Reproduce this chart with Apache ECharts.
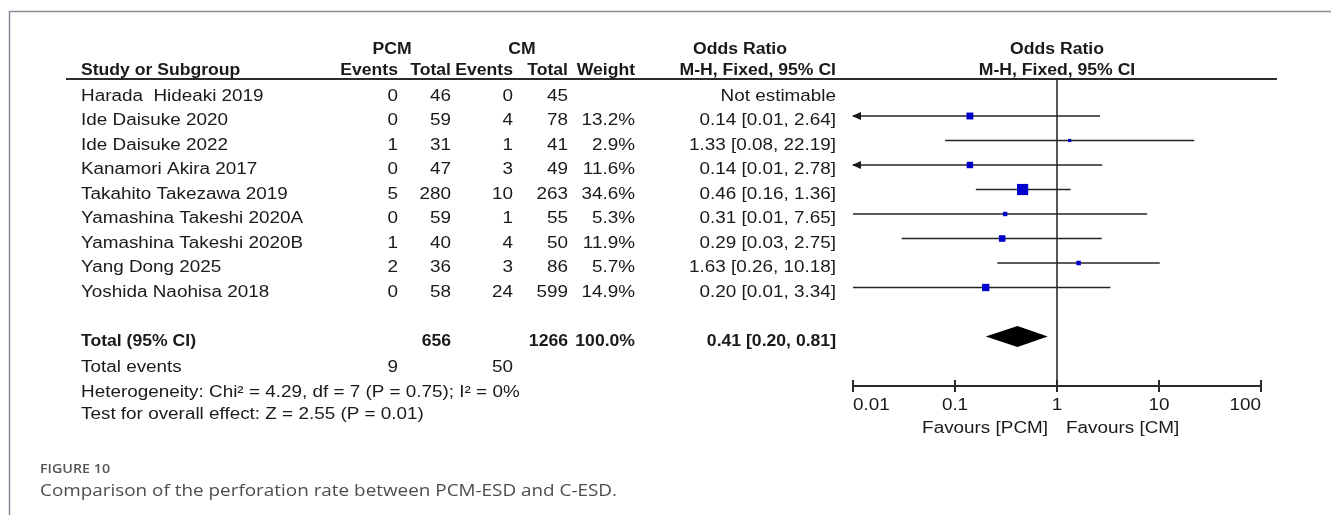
<!DOCTYPE html>
<html>
<head>
<meta charset="utf-8">
<script src="https://cdn.jsdelivr.net/npm/echarts@6/dist/echarts.min.js"></script>
<style>
  html, body { margin: 0; padding: 0; background: #ffffff; }
  #chart { width: 1331px; height: 515px; }
</style>
</head>
<body>
<div id="chart"></div>
<script>
// Study-level data (Mantel-Haenszel fixed-effect odds ratios)
const studies = [
  'Harada  Hideaki 2019', 'Ide Daisuke 2020', 'Ide Daisuke 2022', 'Kanamori Akira 2017',
  'Takahito Takezawa 2019', 'Yamashina Takeshi 2020A', 'Yamashina Takeshi 2020B',
  'Yang Dong 2025', 'Yoshida Naohisa 2018'
];
const pcmEvents = [0, 0, 1, 0, 5, 0, 1, 2, 0];
const pcmTotal  = [46, 59, 31, 47, 280, 59, 40, 36, 58];
const cmEvents  = [0, 4, 1, 3, 10, 1, 4, 3, 24];
const cmTotal   = [45, 78, 41, 49, 263, 55, 50, 86, 599];
const weights   = [null, 13.2, 2.9, 11.6, 34.6, 5.3, 11.9, 5.7, 14.9];
const oddsRatio = [null, 0.14, 1.33, 0.14, 0.46, 0.31, 0.29, 1.63, 0.20];
const ciLower   = [null, 0.01, 0.08, 0.01, 0.16, 0.01, 0.03, 0.26, 0.01];
const ciUpper   = [null, 2.64, 22.19, 2.78, 1.36, 7.65, 2.75, 10.18, 3.34];
const ciBeyondAxis = [false, true, false, true, false, false, false, false, false];

// Pooled estimate
const pooledOR = 0.41;
const pooledLower = 0.20;
const pooledUpper = 0.81;
const pooledWeight = 100.0;

// Summary statistics
const heterogeneityText = 'Heterogeneity: Chi\u00B2 = 4.29, df = 7 (P = 0.75); I\u00B2 = 0%';
const overallEffectText = 'Test for overall effect: Z = 2.55 (P = 0.01)';

// Log-scale axis
const axisTicks = [0.01, 0.1, 1, 10, 100];
const axisTickLabels = ['0.01', '0.1', '1', '10', '100'];
const nullEffect = 1;
const favoursLeft = 'Favours [PCM]';
const favoursRight = 'Favours [CM]';

const captionLabel = 'FIGURE 10';
const captionText = 'Comparison of the perforation rate between PCM-ESD and C-ESD.';

// ---- layout constants ----
const FONT = '"Liberation Sans", Arial, sans-serif';
const CAP_FONT = '"Open Sans", Lato, sans-serif';
const FS = 16;
const SX = 1.18;            // horizontal stretch of regular table typography
const SXB = 1.1;            // horizontal stretch of bold table typography
const TEXT_DY = 5;          // text centre sits slightly below the marks
const ROW_TOTAL = 10, ROW_EVENTS = 11.05, ROW_HET = 12.1, ROW_TEST = 13.0;
const HEAD1 = -1.92, HEAD2 = -1.06;
const Y_TOP = (79 - 91.5) / 24.5, Y_BOTTOM = (386 - 91.5) / 24.5;
const COL = {
  name: 81, pcmEv: 398, pcmTot: 451, cmEv: 513, cmTot: 568, weight: 635, ci: 836
};

const sum = a => a.reduce((s, v) => s + v, 0);
const fmt2 = v => v.toFixed(2);
const ciText = (o, l, u) => fmt2(o) + ' [' + fmt2(l) + ', ' + fmt2(u) + ']';

const chart = echarts.init(document.getElementById('chart'), null, { renderer: 'canvas' });

const ciData = [];
const squareData = [];
studies.forEach((s, i) => {
  if (oddsRatio[i] == null) return;
  ciData.push([ciLower[i], i, ciUpper[i], ciBeyondAxis[i] ? 1 : 0]);
  squareData.push([oddsRatio[i], i, weights[i]]);
});

const option = {
  animation: false,
  backgroundColor: '#ffffff',
  grid: { left: 853, width: 408, top: 79, height: 307, containLabel: false },
  xAxis: {
    type: 'log', logBase: 10, min: 0.01, max: 100,
    axisLine: { show: true, onZero: false, lineStyle: { color: '#2b2b2b', width: 2 } },
    axisTick: { show: false },
    axisLabel: { show: false },
    splitLine: { show: false }
  },
  yAxis: {
    type: 'value', inverse: true, min: Y_TOP, max: Y_BOTTOM,
    show: false, splitLine: { show: false }
  },
  series: [
    {
      // line of no effect
      type: 'custom', name: 'null', clip: false,
      encode: { x: 0 },
      data: [[nullEffect]],
      renderItem: function (params, api) {
        const t = api.coord([api.value(0), Y_TOP]);
        const b = api.coord([api.value(0), Y_BOTTOM]);
        return {
          type: 'line',
          shape: { x1: t[0], y1: t[1], x2: b[0], y2: b[1] },
          style: { stroke: '#2b2b2b', lineWidth: 1.6 }
        };
      },
      z: 1
    },
    {
      // confidence intervals
      type: 'custom', name: 'ci', clip: false,
      encode: { x: [0, 2], y: 1 },
      data: ciData,
      renderItem: function (params, api) {
        const p1 = api.coord([api.value(0), api.value(1)]);
        const p2 = api.coord([api.value(2), api.value(1)]);
        const children = [{
          type: 'line',
          shape: { x1: p1[0], y1: p1[1], x2: p2[0], y2: p2[1] },
          style: { stroke: '#262626', lineWidth: 1.6 }
        }];
        if (api.value(3)) {
          children.push({
            type: 'polygon',
            shape: { points: [[p1[0] - 1, p1[1]], [p1[0] + 8, p1[1] - 4], [p1[0] + 8, p1[1] + 4]] },
            style: { fill: '#1a1a1a' }
          });
        }
        return { type: 'group', children: children };
      },
      z: 2
    },
    {
      // study point estimates, square area proportional to weight
      type: 'scatter', name: 'or',
      data: squareData,
      symbol: 'rect',
      symbolSize: v => 1.9 * Math.sqrt(v[2]),
      itemStyle: { color: '#0000cc', opacity: 1 },
      z: 3
    },
    {
      // pooled diamond
      type: 'custom', name: 'pooled', clip: false,
      encode: { x: [0, 2, 3], y: 1 },
      data: [[pooledLower, ROW_TOTAL, pooledOR, pooledUpper]],
      renderItem: function (params, api) {
        const l = api.coord([api.value(0), api.value(1)]);
        const c = api.coord([api.value(2), api.value(1)]);
        const u = api.coord([api.value(3), api.value(1)]);
        const h = 10.5;
        return {
          type: 'polygon',
          shape: { points: [[l[0], l[1]], [c[0], c[1] - h], [u[0], u[1]], [c[0], c[1] + h]] },
          style: { fill: '#000000' }
        };
      },
      z: 3
    },
    {
      // axis ticks and tick labels
      type: 'custom', name: 'ticks', clip: false,
      encode: { x: 0 },
      data: axisTicks.map((v, i) => [v, i]),
      renderItem: function (params, api) {
        const i = api.value(1);
        const p = api.coord([api.value(0), Y_BOTTOM]);
        const align = i === 0 ? 'left' : (i === axisTicks.length - 1 ? 'right' : 'center');
        return {
          type: 'group',
          children: [
            { type: 'line', shape: { x1: p[0], y1: p[1] - 6, x2: p[0], y2: p[1] + 6 },
              style: { stroke: '#2b2b2b', lineWidth: 2 } },
            { type: 'text', x: p[0], y: p[1] + 19.5, scaleX: SX,
              style: { text: axisTickLabels[i], x: 0, y: 0, align: align, verticalAlign: 'middle',
                       fontSize: FS, fontFamily: FONT, fill: '#1a1a1a' } }
          ]
        };
      },
      z: 4
    },
    {
      // favours labels either side of the line of no effect
      type: 'custom', name: 'favours', clip: false,
      encode: { x: 0 },
      data: [[nullEffect]],
      renderItem: function (params, api) {
        const p = api.coord([api.value(0), Y_BOTTOM]);
        const st = { fontSize: FS, fontFamily: FONT, fill: '#1a1a1a', verticalAlign: 'middle', x: 0, y: 0 };
        return {
          type: 'group',
          children: [
            { type: 'text', x: p[0] - 9, y: p[1] + 42.5, scaleX: SX,
              style: Object.assign({ text: favoursLeft, align: 'right' }, st) },
            { type: 'text', x: p[0] + 9, y: p[1] + 42.5, scaleX: SX,
              style: Object.assign({ text: favoursRight, align: 'left' }, st) }
          ]
        };
      },
      z: 4
    }
  ]
};

chart.setOption(option);

// ---- table text, placed on the same row scale as the marks ----
const rowY = r => chart.convertToPixel({ yAxisIndex: 0 }, r) + TEXT_DY;
const texts = [];
function cell(txt, x, row, align, bold) {
  texts.push({
    type: 'text', x: x, y: rowY(row), scaleX: bold ? SXB : SX, silent: true,
    style: {
      text: txt, x: 0, y: 0, align: align || 'right', verticalAlign: 'middle',
      fontSize: FS, fontFamily: FONT, fontWeight: bold ? 'bold' : 'normal', fill: '#1a1a1a'
    }
  });
}

// headers
cell('PCM', 392, HEAD1, 'center', true);
cell('CM', 522, HEAD1, 'center', true);
cell('Odds Ratio', 740, HEAD1, 'center', true);
cell('Odds Ratio', 1057, HEAD1, 'center', true);
cell('Study or Subgroup', COL.name, HEAD2, 'left', true);
cell('Events', COL.pcmEv, HEAD2, 'right', true);
cell('Total', COL.pcmTot, HEAD2, 'right', true);
cell('Events', COL.cmEv, HEAD2, 'right', true);
cell('Total', COL.cmTot, HEAD2, 'right', true);
cell('Weight', COL.weight, HEAD2, 'right', true);
cell('M-H, Fixed, 95% CI', COL.ci, HEAD2, 'right', true);
cell('M-H, Fixed, 95% CI', 1057, HEAD2, 'center', true);

// study rows
studies.forEach((s, i) => {
  cell(s, COL.name, i, 'left');
  cell(String(pcmEvents[i]), COL.pcmEv, i);
  cell(String(pcmTotal[i]), COL.pcmTot, i);
  cell(String(cmEvents[i]), COL.cmEv, i);
  cell(String(cmTotal[i]), COL.cmTot, i);
  if (oddsRatio[i] == null) {
    cell('Not estimable', COL.ci, i);
  } else {
    cell(weights[i].toFixed(1) + '%', COL.weight, i);
    cell(ciText(oddsRatio[i], ciLower[i], ciUpper[i]), COL.ci, i);
  }
});

// totals
cell('Total (95% CI)', COL.name, ROW_TOTAL, 'left', true);
cell(String(sum(pcmTotal)), COL.pcmTot, ROW_TOTAL, 'right', true);
cell(String(sum(cmTotal)), COL.cmTot, ROW_TOTAL, 'right', true);
cell(pooledWeight.toFixed(1) + '%', COL.weight, ROW_TOTAL, 'right', true);
cell(ciText(pooledOR, pooledLower, pooledUpper), COL.ci, ROW_TOTAL, 'right', true);
cell('Total events', COL.name, ROW_EVENTS, 'left');
cell(String(sum(pcmEvents)), COL.pcmEv, ROW_EVENTS);
cell(String(sum(cmEvents)), COL.cmEv, ROW_EVENTS);
cell(heterogeneityText, COL.name, ROW_HET, 'left');
cell(overallEffectText, COL.name, ROW_TEST, 'left');

// header rule, frame and caption
texts.push({ type: 'line', silent: true, shape: { x1: 66, y1: 79, x2: 1277, y2: 79 },
  style: { stroke: '#2b2b2b', lineWidth: 2 } });
texts.push({ type: 'polyline', silent: true,
  shape: { points: [[9.5, 515], [9.5, 11.5], [1331, 11.5]] },
  style: { stroke: '#8a8a98', lineWidth: 1.5, fill: null } });
texts.push({ type: 'text', x: 40, y: 469, silent: true, scaleX: 1.1,
  style: { text: captionLabel, x: 0, y: 0, align: 'left', verticalAlign: 'middle',
           fontSize: 13, fontWeight: 600, fontFamily: CAP_FONT, fill: '#555555' } });
texts.push({ type: 'text', x: 40, y: 491, silent: true, scaleX: 1.18,
  style: { text: captionText, x: 0, y: 0, align: 'left', verticalAlign: 'middle',
           fontSize: 16, fontFamily: CAP_FONT, fill: '#4d4d4d' } });

chart.setOption({ graphic: texts });
</script>
</body>
</html>
